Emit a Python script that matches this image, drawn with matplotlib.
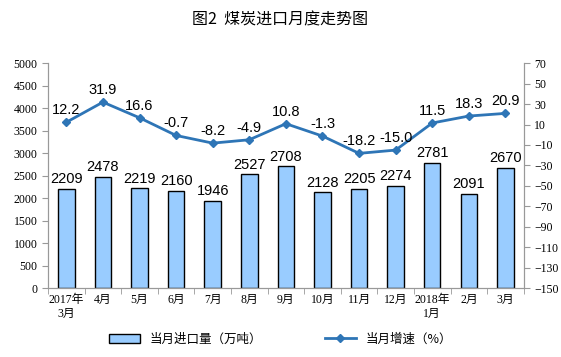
import matplotlib.pyplot as plt
import numpy as np

plt.rcParams['font.family'] = ['Liberation Sans', 'Noto Sans CJK SC', 'DejaVu Sans']

months = ['2017年\n3月', '4月', '5月', '6月', '7月', '8月', '9月', '10月', '11月',
          '12月', '2018年\n1月', '2月', '3月']
imports = [2209, 2478, 2219, 2160, 1946, 2527, 2708, 2128, 2205, 2274, 2781, 2091, 2670]
growth = [12.2, 31.9, 16.6, -0.7, -8.2, -4.9, 10.8, -1.3, -18.2, -15.0, 11.5, 18.3, 20.9]

fig = plt.figure(figsize=(5.61, 3.57), dpi=100)
ax = fig.add_axes([0.0856, 0.193, 0.848, 0.63])
ax2 = ax.twinx()

x = np.arange(len(months))
bars = ax.bar(x, imports, width=0.45, color='#99CCFF', edgecolor='black', linewidth=1,
              label='当月进口量（万吨）')
for xi, v in zip(x, imports):
    ax.text(xi, v + 60, str(v), ha='center', va='bottom', fontsize=10.5)

line, = ax2.plot(x, growth, color='#2E75B6', lw=2, marker='D', ms=4,
                 label='当月增速（%）')
for xi, v in zip(x, growth):
    ax2.text(xi, v + 5, f'{v:.1f}', ha='center', va='bottom', fontsize=10.5)

ax.set_xlim(-0.5, len(months) - 0.5)
ax.set_ylim(0, 5000)
ax.set_yticks(np.arange(0, 5001, 500))
ax2.set_ylim(-150, 70)
ax2.set_yticks(np.arange(-150, 71, 20))

ax.set_xticks(x)
ax.set_xticklabels(months, fontsize=8.5, family=['Liberation Serif', 'Noto Sans CJK SC'])
ax.set_xticks(np.arange(-0.5, len(months), 1), minor=True)
ax.tick_params(axis='x', which='major', length=0, pad=4)
ax.tick_params(axis='x', which='minor', length=4, color='#999999')
for a in (ax, ax2):
    a.tick_params(axis='y', labelsize=8.5, length=4, color='#999999')
    for lbl in a.get_yticklabels():
        lbl.set_family('Liberation Serif')
    for s in a.spines.values():
        s.set_color('#999999')
    a.spines['top'].set_visible(False)

fig.text(0.5, 0.945, '图2  煤炭进口月度走势图', ha='center', va='center', fontsize=11.5,
         family=['Noto Sans CJK SC', 'DejaVu Sans'])

fig.legend([bars, line], ['当月进口量（万吨）', '当月增速（%）'], loc='center',
           bbox_to_anchor=(0.5, 0.05), ncol=2, frameon=False, columnspacing=5,
           prop={'family': ['Noto Sans CJK SC', 'DejaVu Sans'], 'size': 9},
           handlelength=2.5)

fig.savefig('out.png', dpi=100)
